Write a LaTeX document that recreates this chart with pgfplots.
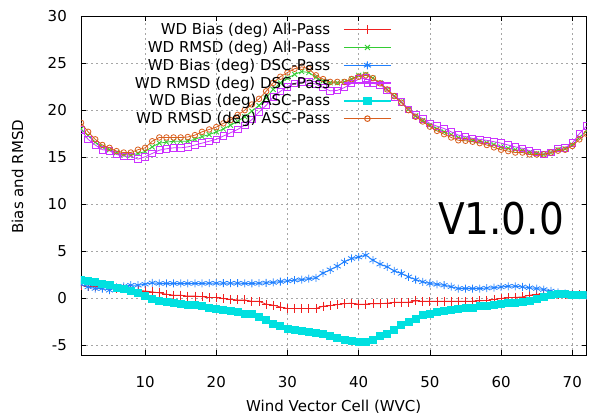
\documentclass[border=0pt]{standalone}
\usepackage{pgfplots}
\usepackage{pgfplotstable}
\pgfplotsset{compat=1.18}
\usepackage{fontspec}
\setmainfont{DejaVu Sans}
\definecolor{gred}{HTML}{F02020}
\definecolor{ggreen}{HTML}{33CC33}
\definecolor{gblue}{HTML}{2080FF}
\definecolor{gmag}{HTML}{CC33FF}
\definecolor{gcyan}{HTML}{00E0E0}
\definecolor{gorange}{HTML}{D95F1E}
\pgfplotstableread{
x r g b m c o
1 1.4 18.0 1.5 17.9 2.0 18.66
2 1.3 17.3 1.23 16.9 1.87 17.7
3 1.25 16.6 1.06 16.3 1.77 16.9
4 1.2 16.1 1.06 15.8 1.6 16.3
5 1.15 15.8 0.88 15.7 1.41 16.0
6 1.1 15.5 1.17 15.3 1.17 15.65
7 1.05 15.3 1.3 15.1 1.06 15.5
8 0.95 15.2 1.41 15.1 0.8 15.5
9 0.85 15.4 1.41 14.8 0.6 15.8
10 0.8 15.6 1.52 15.05 0.25 16.0
11 0.7 16.1 1.66 15.4 0.0 16.7
12 0.6 16.5 1.6 15.75 -0.28 17.1
13 0.45 16.6 1.6 15.9 -0.35 17.1
14 0.35 16.7 1.6 16.0 -0.45 17.1
15 0.35 16.7 1.6 16.0 -0.6 17.1
16 0.25 16.7 1.6 16.1 -0.7 17.15
17 0.25 16.9 1.6 16.3 -0.7 17.35
18 0.2 17.2 1.6 16.5 -0.82 17.7
19 0.1 17.4 1.62 16.7 -0.95 17.95
20 0.1 17.7 1.62 16.9 -1.06 18.2
21 0.0 18.0 1.62 17.25 -1.2 18.6
22 -0.1 18.4 1.62 17.6 -1.3 18.95
23 -0.15 18.8 1.62 17.95 -1.4 19.5
24 -0.15 19.3 1.6 18.4 -1.6 20.0
25 -0.3 19.9 1.6 19.0 -1.67 20.6
26 -0.3 20.5 1.62 19.8 -1.95 21.2
27 -0.6 21.3 1.66 20.5 -2.3 22.0
28 -0.7 22.2 1.7 21.4 -2.66 22.9
29 -0.9 22.9 1.8 22.0 -2.94 23.55
30 -1.06 23.4 1.87 22.5 -3.19 24.0
31 -1.06 23.8 1.95 22.85 -3.37 24.4
32 -1.06 24.1 2.0 23.0 -3.45 24.6
33 -1.06 24.0 2.1 23.0 -3.55 24.4
34 -1.06 23.5 2.2 22.75 -3.65 23.7
35 -0.82 23.1 2.7 22.4 -3.8 23.3
36 -0.75 22.9 3.05 22.05 -4.0 23.0
37 -0.65 22.9 3.43 22.1 -4.15 23.0
38 -0.55 23.0 3.9 22.4 -4.36 23.0
39 -0.5 23.3 4.25 22.85 -4.5 23.3
40 -0.6 23.7 4.4 23.3 -4.6 23.55
41 -0.6 23.8 4.6 23.4 -4.6 23.7
42 -0.55 23.4 4.07 22.85 -4.36 23.4
43 -0.55 22.9 3.65 22.7 -4.0 22.85
44 -0.5 22.2 3.36 22.1 -3.72 22.2
45 -0.4 21.5 2.93 21.4 -3.3 21.5
46 -0.4 20.9 2.66 20.9 -2.84 20.8
47 -0.4 20.1 2.3 20.1 -2.49 20.0
48 -0.25 19.4 2.0 19.5 -2.13 19.3
49 -0.3 18.9 1.77 19.1 -1.78 18.8
50 -0.3 18.4 1.6 18.6 -1.6 18.25
51 -0.3 18.0 1.5 18.3 -1.42 17.8
52 -0.3 17.7 1.41 18.05 -1.3 17.45
53 -0.3 17.4 1.25 17.7 -1.17 17.1
54 -0.3 17.1 1.06 17.35 -1.06 16.8
55 -0.3 16.95 1.06 17.2 -0.95 16.75
56 -0.28 16.8 1.06 17.0 -0.95 16.65
57 -0.25 16.7 1.06 16.9 -0.82 16.5
58 -0.2 16.55 1.1 16.8 -0.8 16.3
59 -0.1 16.35 1.15 16.65 -0.7 16.05
60 0.0 16.1 1.23 16.5 -0.6 15.8
61 0.1 15.95 1.3 16.3 -0.5 15.65
62 0.12 15.8 1.3 16.1 -0.47 15.5
63 0.17 15.7 1.23 15.95 -0.35 15.5
64 0.35 15.5 1.15 15.7 -0.25 15.3
65 0.45 15.4 1.06 15.5 0.0 15.3
66 0.5 15.3 0.95 15.3 0.17 15.3
67 0.45 15.5 0.8 15.5 0.35 15.5
68 0.45 15.8 0.65 15.95 0.45 15.7
69 0.45 15.9 0.53 16.0 0.45 15.8
70 0.4 16.3 0.45 16.5 0.35 16.2
71 0.4 17.1 0.35 17.5 0.35 16.9
72 0.35 17.8 0.3 18.3 0.35 17.5
}\data
\begin{document}
\begin{tikzpicture}
\begin{axis}[
  scale only axis,
  width=505.5pt, height=339pt,
  xmin=1, xmax=72, ymin=-6, ymax=30,
  xtick={10,20,30,40,50,60,70},
  ytick={-5,0,5,10,15,20,25,30},
  tick align=inside,
  major tick length=5pt,
  minor tick num=0,
  axis line style={black, line width=0.8pt},
  tick style={black, line width=0.6pt},
  grid=major,
  major grid style={gray!70, line width=0.5pt, dash pattern=on 2pt off 3pt},
  tick label style={font=\fontsize{15}{18}\selectfont, /pgf/number format/assume math mode=true},
  yticklabel style={anchor=east, inner sep=0pt, xshift=-14pt},
  xticklabel style={anchor=north, inner sep=0pt, yshift=-21pt},
  xlabel={Wind Vector Cell (WVC)},
  ylabel={Bias and RMSD},
  label style={font=\fontsize{15}{18}\selectfont},
  xlabel style={at={(axis description cs:0.5,-0.1652)}, anchor=base},
  ylabel style={at={(axis description cs:-0.1147,0.526)}, anchor=base},
  legend plot pos=right,
  legend cell align=right,
  legend style={draw=none, fill=none, at={(0.615,0.9793)}, anchor=north east,
    inner sep=0pt, row sep=4.9pt, column sep=13pt,
    font=\fontsize{15}{18}\selectfont, nodes={inner sep=0pt}},
  legend image code/.code={\draw[#1, mark repeat=2,mark phase=2] plot coordinates {(0pt,0pt) (23.5pt,0pt) (47pt,0pt)};},
  every axis plot/.append style={line width=0.8pt},
  clip marker paths=true,
]
\addlegendimage{color=gred, line width=1.5pt, mark=+, mark size=4.5pt, mark options={solid, line width=1pt}}
\addlegendentry{WD Bias (deg) All-Pass}
\addlegendimage{color=ggreen, line width=1.5pt, mark=x, mark size=3.5pt, mark options={solid, line width=1pt}}
\addlegendentry{WD RMSD (deg) All-Pass}
\addlegendimage{color=gblue, line width=1.5pt, mark=asterisk, mark size=4pt, mark options={solid, line width=1pt}}
\addlegendentry{WD Bias (deg) DSC-Pass}
\addlegendimage{color=gmag, line width=1.5pt, mark=square, mark size=3.3pt, mark options={solid, line width=1pt}}
\addlegendentry{WD RMSD (deg) DSC-Pass}
\addlegendimage{color=gcyan, line width=1.5pt, mark=square*, mark size=3.5pt, mark options={solid, fill=gcyan}}
\addlegendentry{WD Bias (deg) ASC-Pass}
\addlegendimage{color=gorange, line width=1.5pt, mark=o, mark size=2.8pt, mark options={solid, line width=1pt}}
\addlegendentry{WD RMSD (deg) ASC-Pass}
\addplot[forget plot, color=gred, mark=+, mark size=4.5pt] table[x=x,y=r] {\data};
\addplot[forget plot, color=ggreen, mark=x, mark size=3.5pt] table[x=x,y=g] {\data};
\addplot[forget plot, color=gblue, mark=asterisk, mark size=4pt] table[x=x,y=b] {\data};
\addplot[forget plot, color=gmag, mark=square, mark size=3.3pt] table[x=x,y=m] {\data};
\addplot[forget plot, color=gcyan, mark=square*, mark size=3.5pt, mark options={fill=gcyan}] table[x=x,y=c] {\data};
\addplot[forget plot, color=gorange, mark=o, mark size=2.8pt] table[x=x,y=o] {\data};
\node[font=\fontsize{39}{44}\selectfont, anchor=center, yscale=1.12] at (axis cs:60,8.5) {V1.0.0};
\end{axis}
\pgfresetboundingbox
\path[use as bounding box] ([shift={(-81pt,-62pt)}]current axis.south west) rectangle ([shift={(2.5pt,16pt)}]current axis.north east);
\end{tikzpicture}
\end{document}
